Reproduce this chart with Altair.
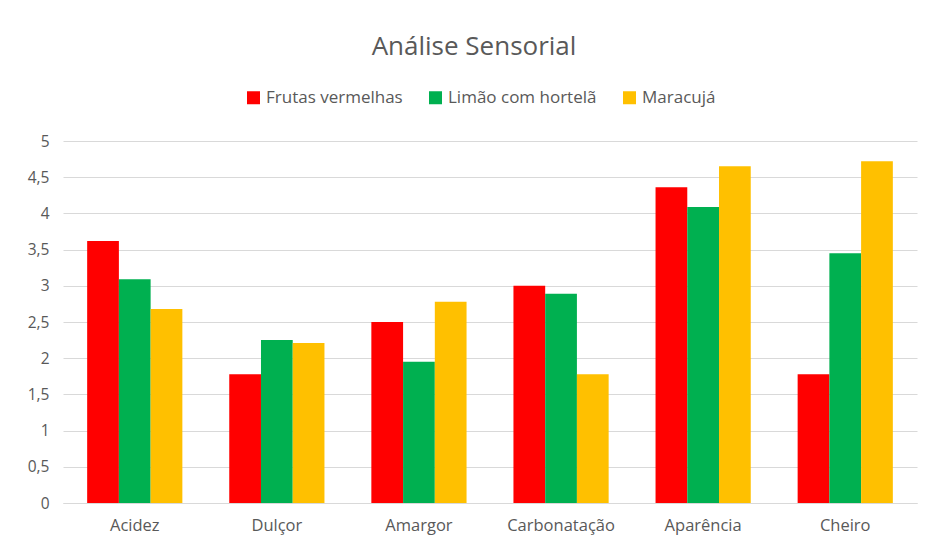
import altair as alt
import pandas as pd

categories = ["Acidez", "Dulçor", "Amargor", "Carbonatação", "Aparência", "Cheiro"]
series = ["Frutas vermelhas", "Limão com hortelã", "Maracujá"]
frutas = [3.62, 1.78, 2.50, 3.00, 4.36, 1.78]
limao = [3.09, 2.25, 1.95, 2.89, 4.09, 3.45]
maracuja = [2.68, 2.21, 2.78, 1.78, 4.65, 4.72]
colors = ["#FF0000", "#00B050", "#FFC000"]
y_ticks = [0, 0.5, 1, 1.5, 2, 2.5, 3, 3.5, 4, 4.5, 5]

rows = []
for s, vals in zip(series, [frutas, limao, maracuja]):
    for c, v in zip(categories, vals):
        rows.append({"Categoria": c, "Série": s, "Valor": v})
df = pd.DataFrame(rows)

FONT = "Open Sans"
GRAY = "#595959"

bars = alt.Chart(df).mark_bar().encode(
    x=alt.X("Categoria:N", sort=categories,
            scale=alt.Scale(paddingInner=0.33, paddingOuter=0.17),
            axis=alt.Axis(title=None, labelAngle=0, labelFont=FONT, labelFontSize=16.5,
                          labelColor=GRAY, labelPadding=14, ticks=False,
                          domainColor="#d9d9d9", domainWidth=1)),
    xOffset=alt.XOffset("Série:N", sort=series),
    y=alt.Y("Valor:Q", scale=alt.Scale(domain=[0, 5], nice=False),
            axis=alt.Axis(title=None, values=y_ticks, labelFont=FONT, labelFontSize=15.5,
                          labelColor=GRAY, labelPadding=14, ticks=False, domain=False,
                          gridColor="#d9d9d9", gridWidth=1,
                          labelExpr="replace(toString(datum.value), '.', ',')")),
    color=alt.Color("Série:N", sort=series,
                    scale=alt.Scale(domain=series, range=colors),
                    legend=alt.Legend(title=None, orient="none", direction="horizontal",
                                      legendX=182, legendY=-52,
                                      symbolType="square", symbolSize=169,
                                      symbolStrokeWidth=0,
                                      labelFont=FONT, labelFontSize=17, labelColor=GRAY,
                                      columnPadding=24, labelOffset=4)),
).properties(
    width=854, height=362,
    autosize=alt.AutoSizeParams(type="none"),
    padding={"left": 55, "top": 133, "right": 2, "bottom": 37},
    title=alt.TitleParams("Análise Sensorial", font=FONT, fontSize=26, fontWeight="normal",
                          color=GRAY, anchor="middle", offset=29, dx=-16),
).configure_view(stroke=None)

chart = bars
chart.save("out.html", embed_options={"renderer": "svg", "actions": False})
